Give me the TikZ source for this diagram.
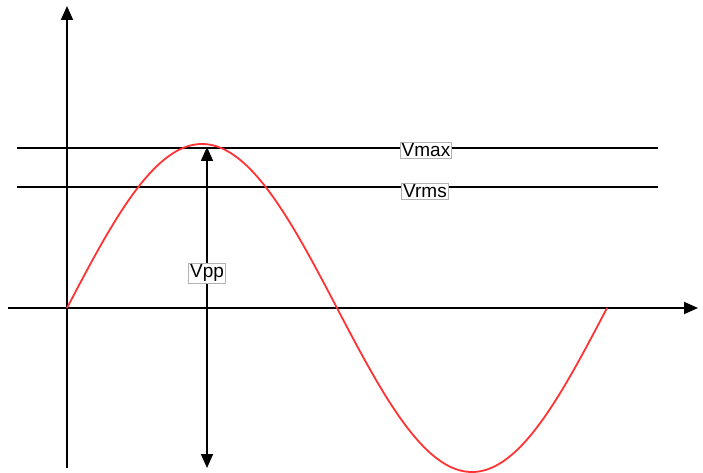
\documentclass[tikz,border=0pt]{standalone}
\usepackage{fontspec}
\setmainfont{Liberation Sans}
\usetikzlibrary{arrows.meta}
\begin{document}
\begin{tikzpicture}[x=1pt,y=-1pt,
  tip/.style={Triangle[length=14pt,width=12pt]},
  axis/.style={line width=1.8pt,-{Triangle[length=14pt,width=12pt]}},
  lvl/.style={line width=1.6pt},
  lbl/.style={draw=gray!60,line width=0.6pt,fill=white,inner sep=1.5pt,font=\fontsize{19}{20}\selectfont},
  wave/.style={red!80!white,line width=1.8pt}]
\useasboundingbox (0,0) rectangle (703,473);
\coordinate (ybot) at (67,468);
\coordinate (ytop) at (67,6);
\coordinate (xl) at (8,308);
\coordinate (xr) at (698,308);
\coordinate (maxl) at (17,148);
\coordinate (maxr) at (658,148);
\coordinate (rmsl) at (17,187);
\coordinate (rmsr) at (658,187);
\coordinate (ppt) at (207,147);
\coordinate (ppb) at (207,468);
\draw[axis] (ybot) -- (ytop);
\draw[axis] (xl) -- (xr);
\draw[lvl] (maxl) -- (maxr);
\draw[lvl] (rmsl) -- (rmsr);
\draw[wave] plot[domain=0:540,samples=181,smooth] ({67+\x},{308-164*sin(\x/1.5)});
\draw[line width=1.8pt,{Triangle[length=14pt,width=12pt]}-{Triangle[length=14pt,width=12pt]}] (ppt) -- (ppb);
\node[lbl] (vmax) at (426,150) {Vmax};
\node[lbl] (vrms) at (425,191) {Vrms};
\node[lbl] (vpp) at (207,273) {Vpp};
\end{tikzpicture}
\end{document}
